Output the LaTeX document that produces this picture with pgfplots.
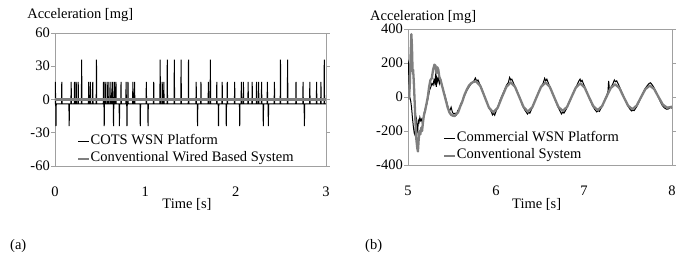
\documentclass[border=0pt]{standalone}
\usepackage{fontspec}
\setmainfont{Liberation Serif}
\usepackage{pgfplots}
\pgfplotsset{compat=1.18}
\newcommand\f{\fontsize{14.5bp}{16bp}\selectfont}
\definecolor{frame}{HTML}{A0A0A0}
\definecolor{sgray}{HTML}{7F7F7F}
\pgfplotsset{
  myaxis/.style={
    scale only axis,
    anchor=south west,
    axis line style={frame, line width=0.6bp},
    tick align=outside,
    major tick length=4bp,
    xtick style={draw=none},
    ytick style={frame, line width=0.6bp},
    tick label style={font=\f},
    /pgf/number format/assume math mode=true,
    xticklabel style={anchor=center, inner sep=0pt, yshift=-22bp},
    yticklabel style={anchor=east, inner sep=0pt, xshift=-1bp},
    title style={font=\f, anchor=west, inner sep=0pt, yshift=0pt},
    xlabel style={font=\f, anchor=center, inner sep=0pt},
    legend cell align=left,
    legend style={draw=none, fill=none, inner sep=0pt, font=\f, row sep=1.3bp,
      column sep=0pt,
      nodes={inner xsep=0.3bp, inner ysep=1bp, text height=10bp, text depth=4bp}},
    legend image code/.code={\draw[##1] (0bp,0bp) -- (11bp,0bp);},
  }
}
\begin{document}
\begin{tikzpicture}
\path[use as bounding box] (0,0) rectangle (685bp,272bp);
\begin{axis}[myaxis,
  at={(55bp,106bp)}, width=271bp, height=133bp,
  xmin=0, xmax=3, ymin=-60, ymax=60,
  xtick={0,1,2,3}, ytick={-60,-30,0,30,60},
  title={Acceleration [mg]},
  title style={at={(axis description cs:-0.103,1.087)}},
  xlabel={Time [s]},
  xlabel style={at={(axis description cs:0.487,0)}, yshift=-38bp},
  legend style={at={(axis description cs:0.081,0.245)}, anchor=north west},
]
\addplot[black, line width=1bp] coordinates {
(0.000,-4) (0.001,-4) (0.004,16) (0.007,-4) (0.008,-4) (0.011,-24) (0.014,-4)
(0.072,-4) (0.075,16) (0.078,-4)
(0.154,-4) (0.157,-24) (0.160,-4)
(0.176,-4) (0.179,16) (0.182,-4)
(0.213,-4) (0.216,16) (0.219,-4)
(0.232,-4) (0.235,16) (0.238,-4)
(0.254,-4) (0.257,16) (0.260,-4)
(0.292,-4) (0.295,36) (0.298,-4)
(0.370,-4) (0.373,16) (0.376,-4)
(0.389,-4) (0.392,16) (0.395,-4)
(0.415,-4) (0.418,16) (0.421,-4)
(0.456,-4) (0.459,36) (0.462,-4)
(0.534,-4) (0.537,16) (0.540,-4)
(0.542,-4) (0.545,-24) (0.548,-4)
(0.553,-4) (0.556,16) (0.559,-4)
(0.575,-4) (0.578,16) (0.581,-4)
(0.594,-4) (0.597,16) (0.600,-4)
(0.616,-4) (0.619,16) (0.622,-4)
(0.635,-4) (0.638,16) (0.641,-4)
(0.645,-4) (0.648,-24) (0.651,-4)
(0.655,-4) (0.658,16) (0.661,-4)
(0.672,-4) (0.675,16) (0.678,-4)
(0.710,-4) (0.713,-24) (0.716,-4)
(0.728,-4) (0.731,16) (0.734,-4)
(0.784,-4) (0.787,16) (0.790,-4)
(0.794,-4) (0.797,-24) (0.800,-4)
(0.805,-4) (0.808,16) (0.811,-4)
(0.859,-4) (0.862,16) (0.865,-4)
(0.878,-4) (0.881,16) (0.884,-4)
(0.941,-4) (0.944,-24) (0.947,-4)
(1.008,-4) (1.011,16) (1.014,-4)
(1.027,-4) (1.030,-24) (1.033,-4)
(1.090,-4) (1.093,16) (1.096,-4)
(1.161,-4) (1.164,36) (1.167,-4)
(1.184,-4) (1.187,16) (1.190,-4)
(1.202,-4) (1.205,16) (1.208,-4)
(1.240,-4) (1.243,36) (1.246,-4)
(1.318,-4) (1.321,36) (1.324,-4)
(1.393,-4) (1.396,36) (1.399,-4)
(1.475,-4) (1.478,36) (1.481,-4)
(1.560,-4) (1.563,16) (1.566,-4)
(1.575,-4) (1.578,-24) (1.581,-4)
(1.613,-4) (1.616,16) (1.619,-4)
(1.695,-4) (1.698,16) (1.701,-4)
(1.717,-4) (1.720,36) (1.723,-4)
(1.788,-4) (1.791,16) (1.794,-4)
(1.807,-4) (1.810,-24) (1.813,-4)
(1.848,-4) (1.851,16) (1.854,-4)
(1.893,-4) (1.896,-24) (1.899,-4)
(1.904,-4) (1.907,16) (1.910,-4)
(1.986,-4) (1.989,16) (1.992,-4)
(2.042,-4) (2.045,-24) (2.048,-4)
(2.060,-4) (2.063,16) (2.066,-4)
(2.083,-4) (2.086,16) (2.089,-4)
(2.135,-4) (2.138,16) (2.141,-4)
(2.180,-4) (2.183,16) (2.186,-4)
(2.228,-4) (2.231,16) (2.234,-4)
(2.251,-4) (2.254,16) (2.257,-4)
(2.284,-4) (2.287,16) (2.290,-4)
(2.303,-4) (2.306,-24) (2.309,-4)
(2.348,-4) (2.351,16) (2.354,-4)
(2.359,-4) (2.362,-24) (2.365,-4)
(2.426,-4) (2.429,16) (2.432,-4)
(2.493,-4) (2.496,36) (2.499,-4)
(2.572,-4) (2.575,36) (2.578,-4)
(2.665,-4) (2.668,16) (2.671,-4)
(2.743,-4) (2.746,16) (2.749,-4)
(2.758,-4) (2.761,-24) (2.764,-4)
(2.818,-4) (2.821,16) (2.824,-4)
(2.893,-4) (2.896,16) (2.899,-4)
(2.941,-4) (2.944,16) (2.947,-4)
(2.978,-4) (2.981,36) (2.984,-4) (3.000,-4)
};
\addlegendentry{COTS WSN Platform}
\addplot[sgray, line width=2.3bp] coordinates {(0,0) (3,0)};
\addlegendentry{Conventional Wired Based System}
\end{axis}

\begin{axis}[myaxis,
  at={(408bp,107bp)}, width=264bp, height=136bp,
  xmin=5, xmax=8, ymin=-400, ymax=400,
  xtick={5,6,7,8}, ytick={-400,-200,0,200,400},
  title={Acceleration [mg]},
  title style={at={(axis description cs:-0.144,1.047)}},
  xlabel={Time [s]},
  xlabel style={at={(axis description cs:0.4875,0)}, yshift=-39bp},
  legend style={at={(axis description cs:0.133,0.255)}, anchor=north west},
]
\addplot[black, line width=1bp] coordinates {
(5.000,190) (5.005,200) (5.012,60) (5.020,0) (5.030,-20) (5.040,-60) (5.050,-120)
(5.060,-170) (5.070,-210) (5.080,-225) (5.088,-150) (5.095,-130) (5.103,-180)
(5.110,-200) (5.118,-140) (5.125,-150) (5.135,-120) (5.145,-140) (5.155,-130)
(5.165,-160) (5.175,-120) (5.185,-90) (5.200,-60) (5.215,-40) (5.230,0)
(5.245,40) (5.260,60) (5.272,80) (5.285,70) (5.295,100) (5.305,80) (5.315,140)
(5.322,60) (5.330,110) (5.340,90) (5.350,130) (5.360,80) (5.372,100) (5.385,70)
(5.400,40) (5.420,10) (5.440,-30) (5.460,-70) (5.475,-80) (5.490,-60)
(5.505,-90) (5.520,-100) (5.535,-95) (5.550,-105) (5.565,-80) (5.580,-70)
(5.600,-40) (5.620,-20) (5.645,10) (5.670,40) (5.695,60) (5.720,80) (5.745,90)
(5.765,112) (5.780,95) (5.795,100) (5.820,70) (5.845,40) (5.870,5) (5.895,-30)
(5.920,-65) (5.945,-85) (5.960,-105) (5.972,-95) (5.985,-107) (6.000,-85)
(6.020,-60) (6.045,-20) (6.070,10) (6.095,40) (6.120,70) (6.140,85) (6.155,115)
(6.168,100) (6.180,105) (6.200,80) (6.225,50) (6.250,20) (6.275,-10)
(6.300,-50) (6.325,-75) (6.345,-90) (6.358,-100) (6.370,-90) (6.385,-95)
(6.410,-65) (6.435,-30) (6.460,0) (6.485,30) (6.510,60) (6.535,80) (6.553,110)
(6.565,95) (6.578,105) (6.600,75) (6.625,45) (6.650,15) (6.675,-20)
(6.700,-55) (6.725,-80) (6.745,-100) (6.758,-88) (6.772,-95) (6.795,-75)
(6.820,-45) (6.845,-15) (6.870,15) (6.895,45) (6.920,70) (6.942,95) (6.955,105)
(6.965,90) (6.978,98) (7.000,70) (7.025,40) (7.050,5) (7.075,-25) (7.100,-55)
(7.125,-75) (7.145,-88) (7.160,-80) (7.175,-85) (7.200,-60) (7.225,-30)
(7.250,0) (7.272,30) (7.280,95) (7.290,40) (7.310,60) (7.330,80) (7.345,100)
(7.358,90) (7.372,95) (7.395,70) (7.420,40) (7.445,10) (7.470,-20)
(7.495,-50) (7.520,-70) (7.540,-82) (7.555,-78) (7.570,-80) (7.595,-60)
(7.620,-35) (7.645,-5) (7.670,25) (7.695,50) (7.720,68) (7.740,80) (7.755,84)
(7.770,75) (7.790,60) (7.815,35) (7.840,5) (7.865,-25) (7.890,-50) (7.915,-65)
(7.940,-72) (7.960,-70) (7.980,-62) (8.000,-65)
};
\addlegendentry{Commercial WSN Platform}
\addplot[sgray, line width=2.3bp, line join=round] coordinates {
(5.000,0) (5.010,-10) (5.020,60) (5.030,250) (5.038,370) (5.045,300)
(5.052,150) (5.058,160) (5.065,100) (5.075,-20) (5.085,-150) (5.095,-250)
(5.105,-300) (5.113,-320) (5.120,-260) (5.130,-200) (5.140,-220) (5.150,-180)
(5.160,-200) (5.170,-150) (5.180,-110) (5.195,-80) (5.210,-40) (5.225,0)
(5.240,60) (5.255,100) (5.270,110) (5.285,160) (5.300,190) (5.312,185)
(5.322,140) (5.333,175) (5.345,160) (5.355,120) (5.370,100) (5.390,60)
(5.410,20) (5.430,-20) (5.450,-60) (5.470,-90) (5.490,-105) (5.510,-110)
(5.530,-112) (5.550,-100) (5.570,-90) (5.590,-60) (5.615,-30) (5.640,10)
(5.665,40) (5.690,65) (5.715,80) (5.740,88) (5.774,92)
(5.823,64) (5.872,0) (5.921,-64) (5.970,-90) (6.019,-63) (6.068,0)
(6.118,60) (6.167,86) (6.216,60) (6.265,0) (6.314,-60) (6.363,-86)
(6.413,-60) (6.462,0) (6.512,60) (6.562,85) (6.611,60) (6.660,0)
(6.709,-58) (6.758,-82) (6.808,-58) (6.858,0) (6.908,56) (6.958,80)
(7.007,56) (7.056,0) (7.106,-54) (7.155,-77) (7.205,-54) (7.254,0)
(7.304,53) (7.353,75) (7.402,53) (7.451,0) (7.501,-51) (7.550,-72)
(7.599,-50) (7.649,0) (7.698,47) (7.748,67) (7.797,47) (7.847,0)
(7.896,-45) (7.945,-63) (7.975,-60) (8.000,-57)
};
\addlegendentry{Conventional System}
\end{axis}
\node[anchor=west, inner sep=0pt, font=\f] at (10bp,26bp) {(a)};
\node[anchor=west, inner sep=0pt, font=\f] at (365bp,26bp) {(b)};
\end{tikzpicture}
\end{document}
